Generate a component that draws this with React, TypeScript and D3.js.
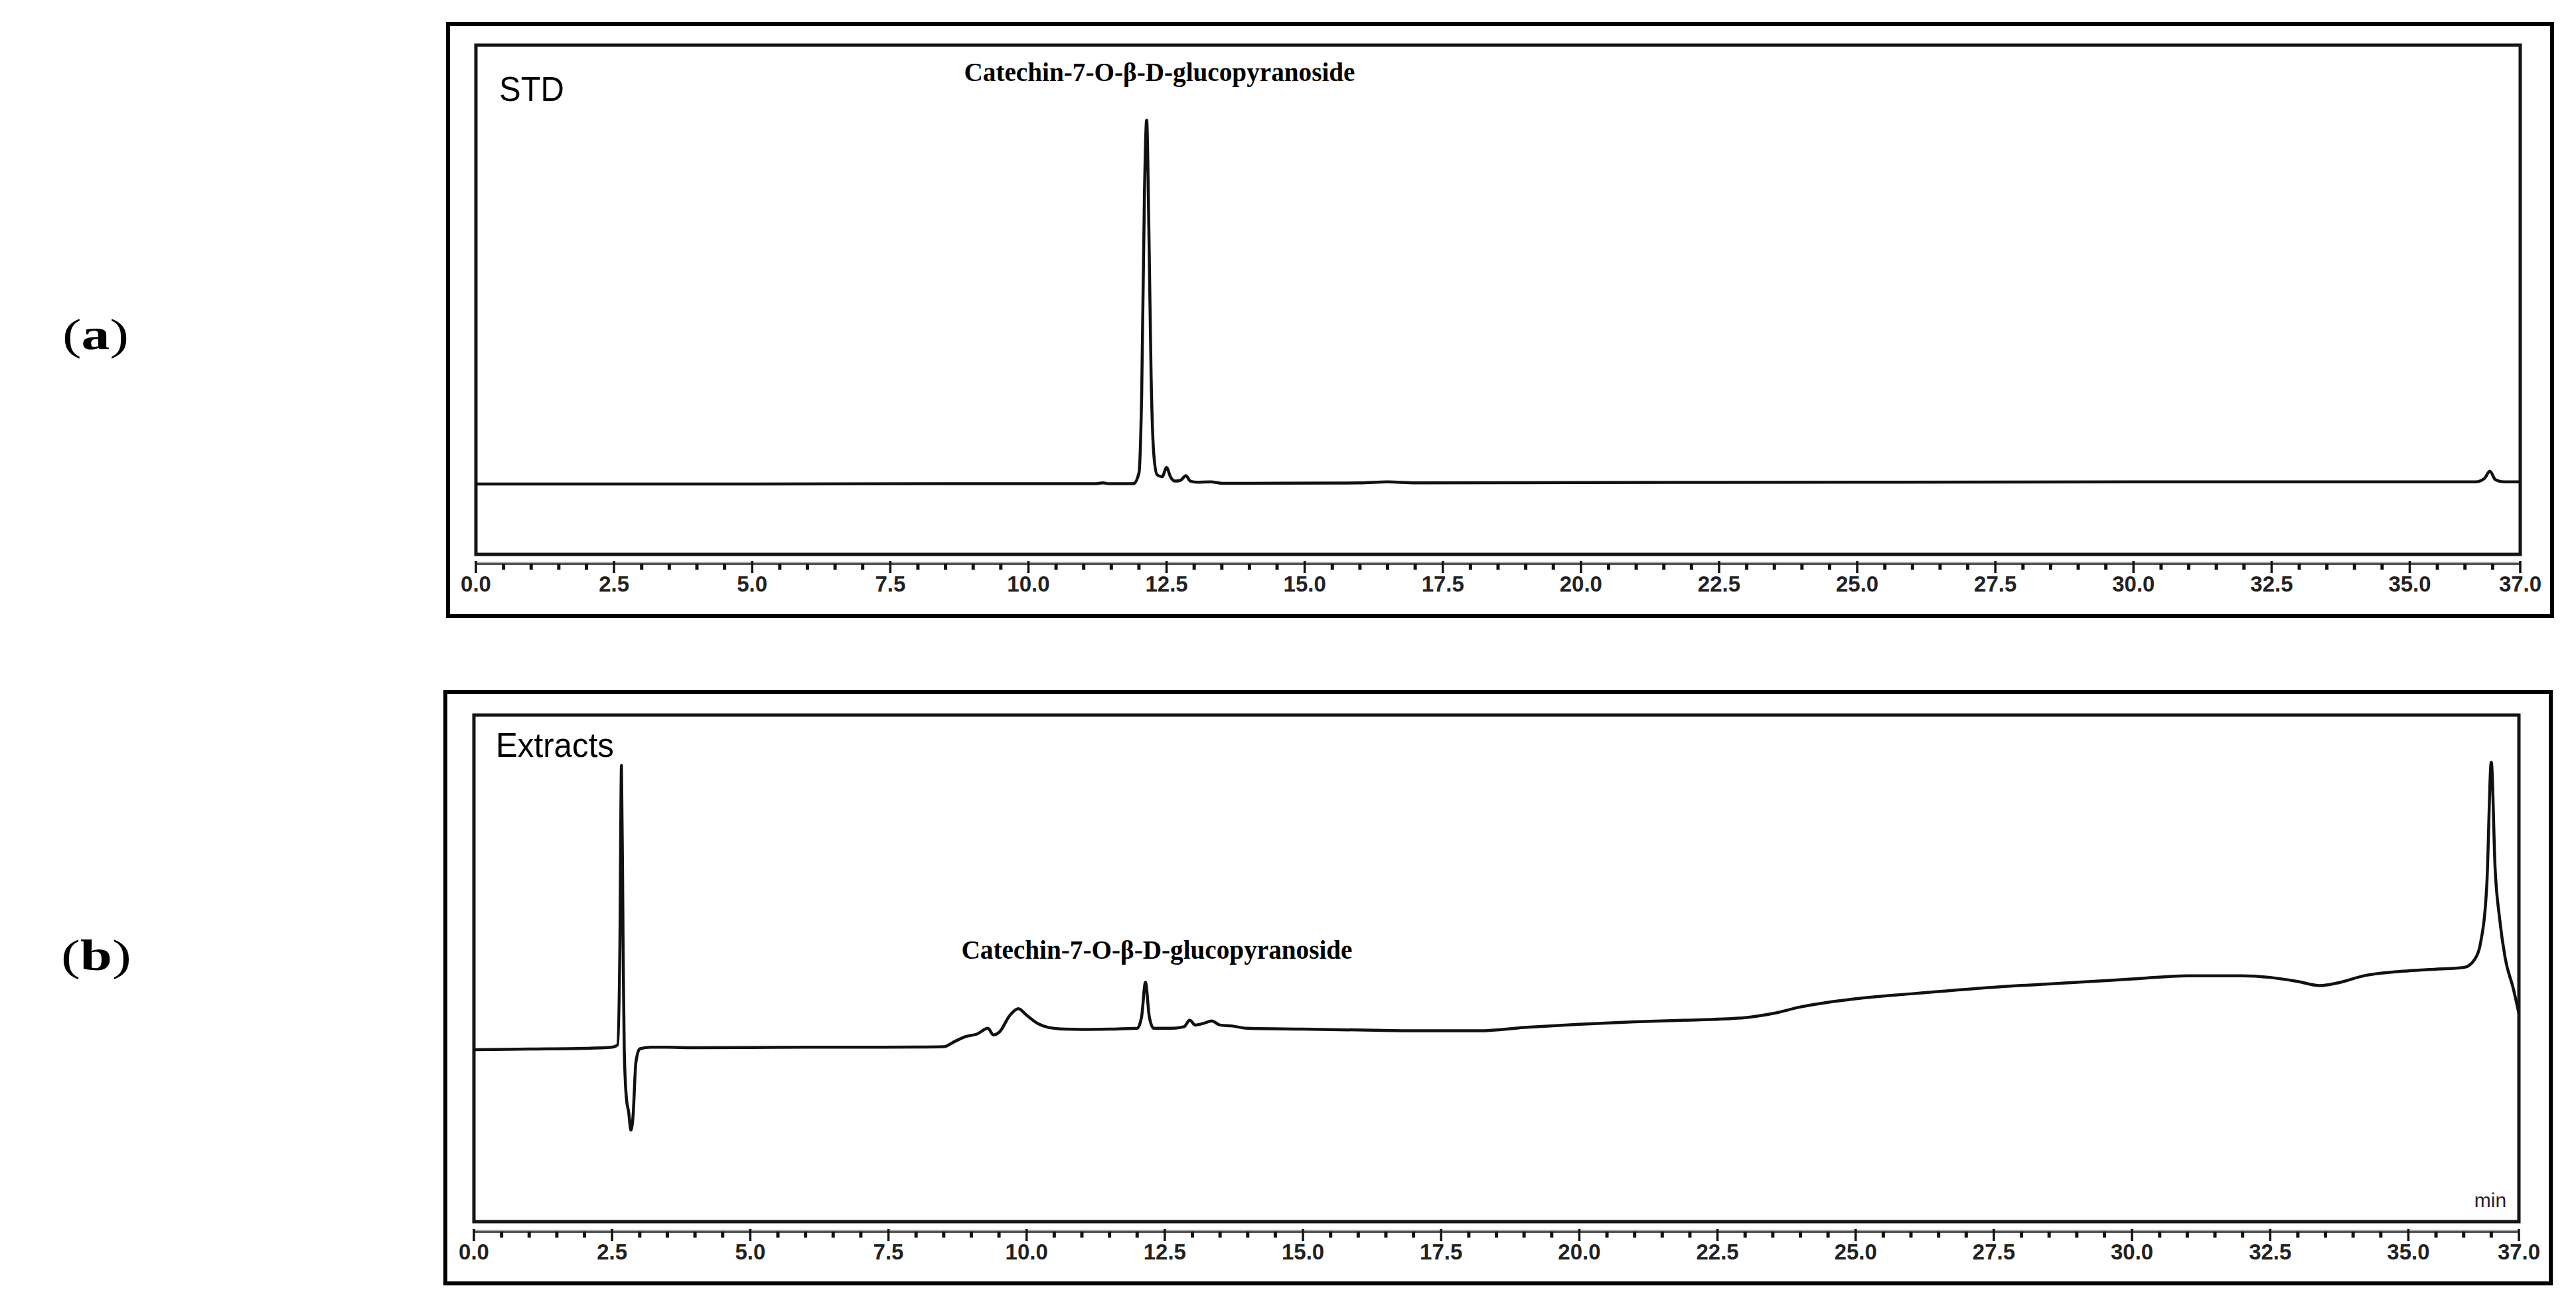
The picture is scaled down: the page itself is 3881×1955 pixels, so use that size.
import React from 'react';
import * as d3 from 'd3';

const W = 3881;
const H = 1955;

// (a) standard chromatogram: retention time (min) and relative signal
const stdTime = [0, 5, 8.5, 11.2, 11.35, 11.45, 11.9, 12.0, 12.05, 12.1, 12.14, 12.18, 12.22, 12.27, 12.33, 12.42, 12.5, 12.57, 12.65, 12.75, 12.85, 12.93, 13.05, 13.3, 13.5, 14.0, 16.0, 16.5, 17.0, 20, 25, 30, 35, 36.2, 36.35, 36.45, 36.55, 36.7, 37];
const stdSignal = [0, 0, 0.1, 0.1, 0.3, 0.1, 0.1, 3, 25, 80, 100, 70, 30, 8, 2.5, 2, 4.5, 2, 0.8, 1, 2.3, 0.8, 0.5, 0.6, 0.2, 0.2, 0.3, 0.6, 0.3, 0.4, 0.5, 0.6, 0.6, 0.6, 1.5, 3.5, 1.2, 0.6, 0.6];

// (b) extract chromatogram
const extTime = [0, 1.0, 2.0, 2.5, 2.6, 2.64, 2.67, 2.7, 2.72, 2.76, 2.8, 2.84, 2.88, 2.93, 3.0, 3.2, 3.5, 4.0, 5, 6, 7, 8.0, 8.5, 8.7, 8.9, 9.1, 9.3, 9.4, 9.5, 9.7, 9.85, 10.0, 10.2, 10.4, 10.7, 11.0, 11.5, 12.0, 12.08, 12.15, 12.22, 12.3, 12.6, 12.85, 12.95, 13.05, 13.2, 13.35, 13.5, 13.7, 14, 15, 16, 17, 18.2, 19, 20, 21, 22, 23, 23.5, 24, 25, 26, 27.5, 29, 30, 31, 32, 32.5, 33.0, 33.4, 33.7, 34.2, 35, 35.5, 36.0, 36.2, 36.3, 36.42, 36.5, 36.57, 36.65, 36.75, 36.9, 37];
const extSignal = [0, 0.4, 0.8, 1.5, 3, 60, 173, 60, 0, -30, -38, -49, -40, -8, 0.5, 1.5, 1.5, 1.2, 1.3, 1.5, 1.5, 1.6, 1.8, 5, 8, 9.5, 13, 9, 10.5, 21, 25, 21, 16, 13.5, 12.5, 12.3, 12.5, 13, 20, 41, 20, 13, 13, 14, 18, 15, 16, 17.5, 15, 14.5, 13, 12.5, 12, 11.5, 11.5, 13.5, 15.5, 17, 18, 19.5, 22, 26, 31, 34, 38, 41, 43, 45, 45, 44, 41.5, 39, 40.5, 45, 48, 49, 50, 55, 64, 101, 175, 110, 80, 56, 37, 22];

const majorTicks = [0, 2.5, 5, 7.5, 10, 12.5, 15, 17.5, 20, 22.5, 25, 27.5, 30, 32.5, 35, 37];
const tickLabels = ['0.0', '2.5', '5.0', '7.5', '10.0', '12.5', '15.0', '17.5', '20.0', '22.5', '25.0', '27.5', '30.0', '32.5', '35.0', '37.0'];
const minorTicks = d3.range(0, 37.01, 0.5);
const panelTitles = ['STD', 'Extracts'];
const panelLetters = ['a', 'b'];
const peakLabel = 'Catechin-7-O-\u03b2-D-glucopyranoside';

const panels = [
  {
    outer: { x0: 675, y0: 36, x1: 3845, y1: 928 },
    inner: { x0: 717, y0: 68, x1: 3797, y1: 835 },
    axisY: 849,
    labelY: 891,
    title: { x: 752, y: 152 },
    peak: { x: 1747, y: 122 },
    letter: { x: 144, y: 526 },
    yDomain: [0, 100],
    yRange: [729, 181],
    time: stdTime,
    signal: stdSignal,
    showMin: false,
  },
  {
    outer: { x0: 671, y0: 1042, x1: 3843, y1: 1933 },
    inner: { x0: 714, y0: 1077, x1: 3795, y1: 1840 },
    axisY: 1855,
    labelY: 1897,
    title: { x: 747, y: 1140 },
    peak: { x: 1743, y: 1444 },
    letter: { x: 145, y: 1461 },
    yDomain: [0, 175],
    yRange: [1581, 1148],
    time: extTime,
    signal: extSignal,
    showMin: true,
  },
];

function Panel({ p, idx }: { p: any; idx: number }) {
  const x = d3.scaleLinear().domain([0, 37]).range([p.inner.x0, p.inner.x1]);
  const y = d3.scaleLinear().domain(p.yDomain).range(p.yRange);
  const pts = p.time.map((t: number, i: number) => [t, p.signal[i]] as [number, number]);
  const line = d3
    .line<[number, number]>()
    .x((d) => x(d[0]))
    .y((d) => y(d[1]))
    .curve(d3.curveMonotoneX);
  const clipId = `clip-${idx}`;
  const majorSet = new Set(majorTicks.map((m) => m.toFixed(1)));
  return (
    <g>
      <defs>
        <clipPath id={clipId}>
          <rect x={p.inner.x0} y={p.inner.y0} width={p.inner.x1 - p.inner.x0} height={p.inner.y1 - p.inner.y0} />
        </clipPath>
      </defs>
      {/* panel letter */}
      <text x={p.letter.x} y={p.letter.y} textAnchor="middle" fontFamily="'Liberation Serif', 'Times New Roman', serif" fontSize={66} fill="#000" textLength={idx === 0 ? 100 : 106} lengthAdjust="spacingAndGlyphs">
        (<tspan fontWeight="bold">{panelLetters[idx]}</tspan>)
      </text>
      {/* outer frame */}
      <rect x={p.outer.x0} y={p.outer.y0} width={p.outer.x1 - p.outer.x0} height={p.outer.y1 - p.outer.y0} fill="none" stroke="#000" strokeWidth={6} />
      {/* inner frame */}
      <rect x={p.inner.x0} y={p.inner.y0} width={p.inner.x1 - p.inner.x0} height={p.inner.y1 - p.inner.y0} fill="none" stroke="#151515" strokeWidth={5} />
      {/* trace */}
      <path d={line(pts) || ''} fill="none" stroke="#111" strokeWidth={4.5} strokeLinejoin="round" clipPath={`url(#${clipId})`} />
      {/* axis */}
      <line x1={x(0)} x2={x(37)} y1={p.axisY} y2={p.axisY} stroke="#555" strokeWidth={4} />
      <line x1={x(0)} x2={x(37)} y1={p.axisY - 2} y2={p.axisY - 2} stroke="#bbb" strokeWidth={1.5} />
      {minorTicks.map((t) => {
        const major = majorSet.has(t.toFixed(1));
        return (
          <line key={t} x1={x(t)} x2={x(t)} y1={p.axisY - (major ? 4 : 0)} y2={p.axisY + (major ? 14 : 9)} stroke="#111" strokeWidth={major ? 3.5 : 5} />
        );
      })}
      {majorTicks.map((t, i) => (
        <text key={t} x={x(t)} y={p.labelY} textAnchor="middle" fontFamily="'Liberation Sans', Arial, sans-serif" fontWeight="bold" fontSize={33} fill="#222">
          {tickLabels[i]}
        </text>
      ))}
      {/* panel title */}
      <text x={p.title.x} y={p.title.y} fontFamily="'Liberation Sans', Arial, sans-serif" fontSize={52} fill="#000" textLength={idx === 0 ? 98 : 178} lengthAdjust="spacingAndGlyphs">
        {panelTitles[idx]}
      </text>
      {/* peak label */}
      <text x={p.peak.x} y={p.peak.y} textAnchor="middle" fontFamily="'Liberation Serif', 'Times New Roman', serif" fontWeight="bold" fontSize={40} fill="#000" textLength={589} lengthAdjust="spacingAndGlyphs">
        {peakLabel}
      </text>
      {p.showMin && (
        <text x={3752} y={1818} textAnchor="middle" fontFamily="'Liberation Sans', Arial, sans-serif" fontSize={30} fill="#2a1d2a">
          min
        </text>
      )}
    </g>
  );
}

export default function App() {
  return (
    <svg width={W} height={H} viewBox={`0 0 ${W} ${H}`} style={{ position: 'absolute', left: 0, top: 0, background: '#fff' }}>
      <rect x={0} y={0} width={W} height={H} fill="#fff" />
      {panels.map((p, i) => (
        <Panel key={i} p={p} idx={i} />
      ))}
    </svg>
  );
}
